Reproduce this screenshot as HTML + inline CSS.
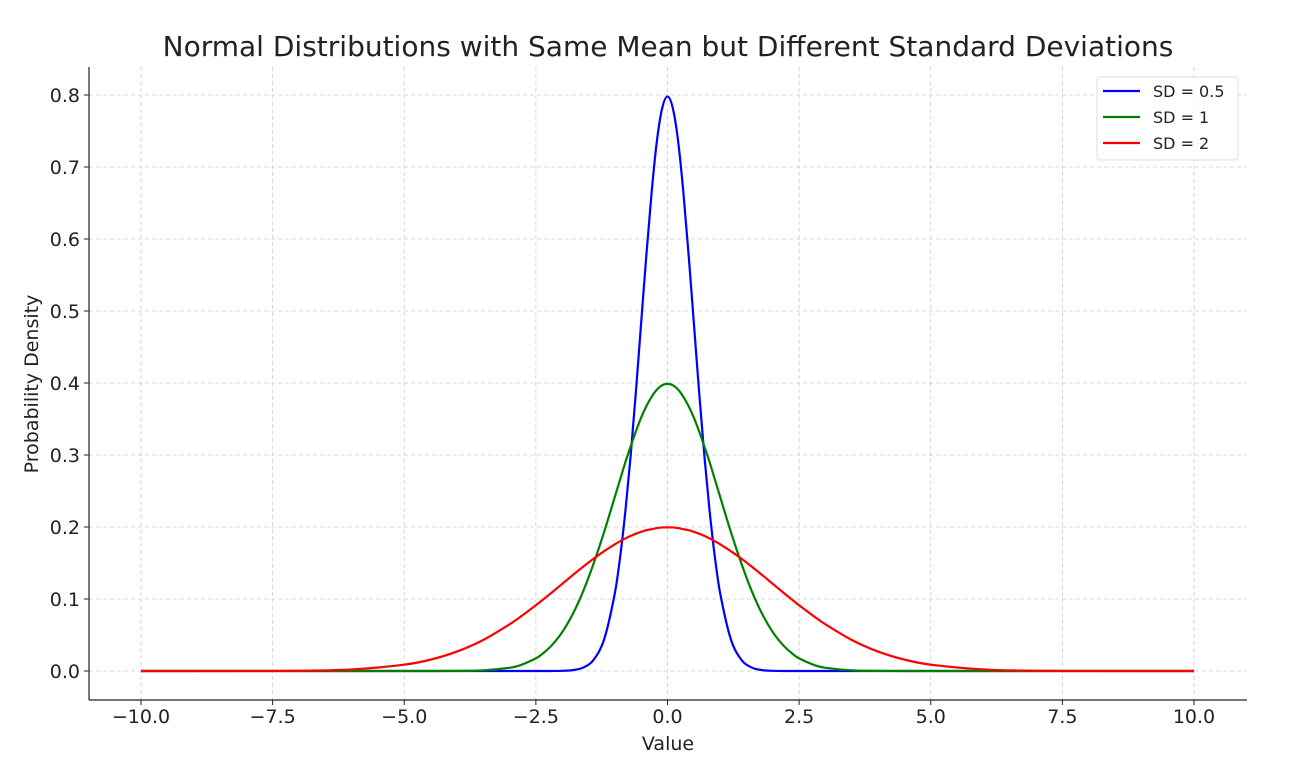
<!DOCTYPE html>
<html><head><meta charset="utf-8"><style>
body{margin:0;background:#fff;}
svg text{font-family:"DejaVu Sans","Liberation Sans",sans-serif;fill:#222;}
</style></head><body>
<svg id="chart" width="1310" height="768">
<text x="668" y="56" font-size="28" text-anchor="middle" fill="#333">Normal Distributions with Same Mean but Different Standard Deviations</text>
<g id="grid"></g>
<g id="axes"></g>
<g id="series"></g>
<text x="668" y="750" font-size="19" text-anchor="middle">Value</text>
<text x="38" y="384" font-size="19" text-anchor="middle" transform="rotate(-90 38 384)">Probability Density</text>
<g>
<rect x="1097" y="77" width="141" height="83" rx="3" fill="#fff" fill-opacity="0.85" stroke="#ddd"/>
<g><line x1="1103" y1="91" x2="1140" y2="91" stroke="#0000ff" stroke-width="2.2"/><text x="1153" y="97" font-size="16" fill="#333">SD = 0.5</text></g>
<g><line x1="1103" y1="117" x2="1140" y2="117" stroke="#008000" stroke-width="2.2"/><text x="1153" y="123" font-size="16" fill="#333">SD = 1</text></g>
<g><line x1="1103" y1="143" x2="1140" y2="143" stroke="#ff0000" stroke-width="2.2"/><text x="1153" y="149" font-size="16" fill="#333">SD = 2</text></g>
</g>
</svg>
<script>
const xValues=[-10,-8,-7,-6,-5,-4.5,-4,-3.5,-3,-2.8,-2.5,-2.4,-2.2,-2,-1.8,-1.6,-1.4,-1.2,-1,-0.9,-0.8,-0.7,-0.6,-0.5,-0.4,-0.3,-0.2,-0.1,0,0.1,0.2,0.3,0.4,0.5,0.6,0.7,0.8,0.9,1,1.2,1.4,1.6,1.8,2,2.2,2.4,2.5,2.8,3,3.5,4,4.5,5,6,7,8,10];
const sd05=[0,0,0,0,0,0,0,0,0,0,0,0,0.00005,0.00027,0.00122,0.00477,0.0158,0.0448,0.108,0.158,0.222,0.299,0.388,0.484,0.579,0.666,0.737,0.782,0.798,0.782,0.737,0.666,0.579,0.484,0.388,0.299,0.222,0.158,0.108,0.0448,0.0158,0.00477,0.00122,0.00027,0.00005,0,0,0,0,0,0,0,0,0,0,0,0];
const sd1=[0,0,0,0,0.0000015,0.000016,0.00013,0.00087,0.0044,0.0079,0.0175,0.0224,0.0355,0.054,0.079,0.111,0.150,0.194,0.242,0.266,0.290,0.312,0.333,0.352,0.368,0.381,0.391,0.397,0.399,0.397,0.391,0.381,0.368,0.352,0.333,0.312,0.290,0.266,0.242,0.194,0.150,0.111,0.079,0.054,0.0355,0.0224,0.0175,0.0079,0.0044,0.00087,0.00013,0.000016,0.0000015,0,0,0,0];
const sd2=[0,0.00007,0.00044,0.0022,0.0088,0.0158,0.0270,0.0431,0.0648,0.0749,0.0913,0.0971,0.1089,0.1210,0.1332,0.1450,0.1563,0.1666,0.1760,0.1802,0.1841,0.1876,0.1907,0.1933,0.1955,0.1970,0.1985,0.1994,0.1995,0.1994,0.1985,0.1970,0.1955,0.1933,0.1907,0.1876,0.1841,0.1802,0.1760,0.1666,0.1563,0.1450,0.1332,0.1210,0.1089,0.0971,0.0913,0.0749,0.0648,0.0431,0.0270,0.0158,0.0088,0.0022,0.00044,0.00007,0];
const xTicks=[-10,-7.5,-5,-2.5,0,2.5,5,7.5,10];
const yTicks=[0,0.1,0.2,0.3,0.4,0.5,0.6,0.7,0.8];
const NS='http://www.w3.org/2000/svg';
const L=89,R=1247,T=67,B=700;
const sx=v=>141+(v+10)*(1194-141)/20;
const sy=v=>671-v*(671-95)/0.8;
function mk(tag,attrs,parent){const e=document.createElementNS(NS,tag);for(const k in attrs)e.setAttribute(k,attrs[k]);parent.appendChild(e);return e;}
const grid=document.getElementById('grid'),axes=document.getElementById('axes'),ser=document.getElementById('series');
xTicks.forEach(t=>{
  const g=mk('line',{x1:sx(t),x2:sx(t),y1:T,y2:B,stroke:'#ccc','stroke-dasharray':'4,3','stroke-width':0.8},grid);
  
  
  const tk=mk('line',{x1:sx(t),x2:sx(t),y1:B,y2:B+5,stroke:'#222'},axes);
  
  
  const tx=mk('text',{x:sx(t),y:B+23,'font-size':19,'text-anchor':'middle'},axes);
  tx.textContent=t.toFixed(1).replace('-','\u2212');
  
  
});
yTicks.forEach(t=>{
  const g=mk('line',{x1:L,x2:R,y1:sy(t),y2:sy(t),stroke:'#ccc','stroke-dasharray':'4,3','stroke-width':0.8},grid);
  
  
  const tk=mk('line',{x1:L-5,x2:L,y1:sy(t),y2:sy(t),stroke:'#222'},axes);
  
  
  const tx=mk('text',{x:L-9,y:sy(t)+7,'font-size':19,'text-anchor':'end'},axes);
  tx.textContent=t.toFixed(1);
  
  
});
const ya=mk('line',{x1:L,x2:L,y1:T,y2:B,stroke:'#222','stroke-width':1.2},axes);


const xa=mk('line',{x1:L,x2:R,y1:B,y2:B,stroke:'#222','stroke-width':1.2},axes);


function pathFor(ys){
  const p=xValues.map((x,i)=>[sx(x),sy(ys[i])]);
  const n=p.length;
  const m=p.map((pt,i)=>{
    const a=p[Math.max(i-1,0)],b=p[Math.min(i+1,n-1)];
    return (b[1]-a[1])/(b[0]-a[0]);
  });
  let d='M'+p[0][0]+','+p[0][1];
  for(let i=0;i<n-1;i++){
    const h=p[i+1][0]-p[i][0];
    let c1y=p[i][1]+m[i]*h/3, c2y=p[i+1][1]-m[i+1]*h/3;
    c1y=Math.min(c1y,sy(0));c2y=Math.min(c2y,sy(0));
    d+=` C${p[i][0]+h/3},${c1y} ${p[i+1][0]-h/3},${c2y} ${p[i+1][0]},${p[i+1][1]}`;
  }
  return d;
}
const s1=mk('path',{d:pathFor(sd05),fill:'none',stroke:'#0000ff','stroke-width':2.2},ser);


const s2=mk('path',{d:pathFor(sd1),fill:'none',stroke:'#008000','stroke-width':2.2},ser);


const s3=mk('path',{d:pathFor(sd2),fill:'none',stroke:'#ff0000','stroke-width':2.2},ser);


</script>
</body></html>
